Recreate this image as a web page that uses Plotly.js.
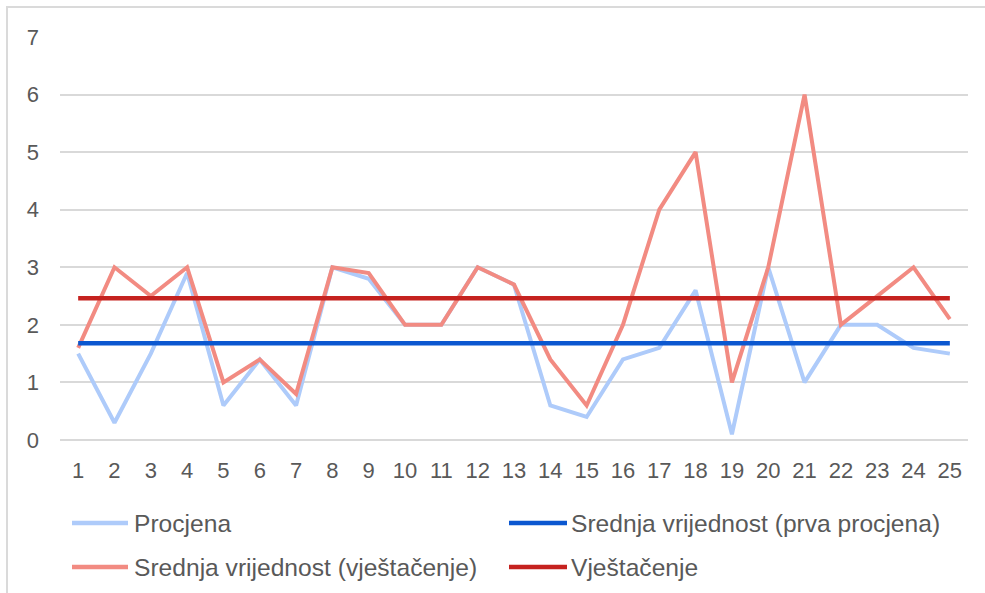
<!DOCTYPE html>
<html>
<head>
<meta charset="utf-8">
<script src="https://cdn.plot.ly/plotly-3.0.1.min.js"></script>
<style>
  html, body { margin: 0; padding: 0; background: #fff; overflow: hidden; }
  #chart { width: 985px; height: 593px; position: absolute; left: 0; top: 0; }
  #frame { position: absolute; left: 6px; top: 6px; width: 1000px; height: 620px;
           border: 2px solid #dadada; pointer-events: none; }
</style>
</head>
<body>
<div id="chart"></div>
<div id="frame"></div>
<script>
// ---- data ----
const categories = ['1','2','3','4','5','6','7','8','9','10','11','12','13','14','15','16','17','18','19','20','21','22','23','24','25'];
const procjena = [1.5,0.3,1.5,2.9,0.6,1.4,0.6,3,2.8,2,2,3,2.7,0.6,0.4,1.4,1.6,2.6,0.1,3,1,2,2,1.6,1.5];
const srednjaVjestacenje = [1.6,3,2.5,3,1,1.4,0.8,3,2.9,2,2,3,2.7,1.4,0.6,2,4,5,1,3,6,2,2.5,3,2.1];
const srednjaPrva = [1.68,1.68,1.68,1.68,1.68,1.68,1.68,1.68,1.68,1.68,1.68,1.68,1.68,1.68,1.68,1.68,1.68,1.68,1.68,1.68,1.68,1.68,1.68,1.68,1.68];
const vjestacenje = [2.46,2.46,2.46,2.46,2.46,2.46,2.46,2.46,2.46,2.46,2.46,2.46,2.46,2.46,2.46,2.46,2.46,2.46,2.46,2.46,2.46,2.46,2.46,2.46,2.46];
const seriesNames = ['Procjena','Srednja vrijednost (prva procjena)','Srednja vrijednost (vještačenje)','Vještačenje'];
const yTicks = [0,1,2,3,4,5,6,7];

// ---- styles ----
const colors = {
  procjena: '#aecbfa',
  prva: '#0b57d0',
  srednjaVj: '#f28b82',
  vj: '#c5221f'
};
const textColor = '#595959';
const W = 985, H = 593;
const M = {l: 60, r: 17, t: 37, b: 153};
const pw = W - M.l - M.r, ph = H - M.t - M.b;
const px2x = px => (px - M.l) / pw;
const py2y = py => (H - M.b - py) / ph;

const traces = [
  {x: categories, y: procjena, name: seriesNames[0], type: 'scatter', mode: 'lines',
   line: {color: colors.procjena, width: 4}},
  {x: categories, y: srednjaVjestacenje, name: seriesNames[2], type: 'scatter', mode: 'lines',
   line: {color: colors.srednjaVj, width: 4}},
  {x: categories, y: srednjaPrva, name: seriesNames[1], type: 'scatter', mode: 'lines',
   line: {color: colors.prva, width: 4.5}},
  {x: categories, y: vjestacenje, name: seriesNames[3], type: 'scatter', mode: 'lines',
   line: {color: colors.vj, width: 4.5}}
];

// manual legend (two columns, two rows)
const legendItems = [
  {name: seriesNames[0], color: colors.procjena, lx0: 72, lx1: 128, tx: 132, py: 523},
  {name: seriesNames[1], color: colors.prva, lx0: 509, lx1: 567, tx: 569, py: 523},
  {name: seriesNames[2], color: colors.srednjaVj, lx0: 72, lx1: 128, tx: 132, py: 567},
  {name: seriesNames[3], color: colors.vj, lx0: 509, lx1: 567, tx: 569, py: 567}
];
const shapes = legendItems.map(it => ({
  type: 'line', xref: 'paper', yref: 'paper',
  x0: px2x(it.lx0), x1: px2x(it.lx1), y0: py2y(it.py), y1: py2y(it.py),
  line: {color: it.color, width: 4.5}
}));
const annotations = legendItems.map(it => ({
  xref: 'paper', yref: 'paper', x: px2x(it.tx), y: py2y(it.py),
  xanchor: 'left', yanchor: 'middle', showarrow: false,
  text: it.name, font: {family: 'Liberation Sans, Arial, sans-serif', size: 24.6, color: textColor}
}));

const layout = {
  width: W, height: H,
  margin: M,
  paper_bgcolor: '#fff', plot_bgcolor: '#fff',
  showlegend: false,
  font: {family: 'Liberation Sans, Arial, sans-serif', color: textColor},
  xaxis: {
    type: 'category', categoryorder: 'array', categoryarray: categories,
    range: [-0.5, categories.length - 0.5],
    showgrid: false, zeroline: false, showline: false, ticks: '',
    tickfont: {size: 22, color: textColor},
    ticklabelstandoff: 15,
    fixedrange: true
  },
  yaxis: {
    range: [0, 7], tickvals: yTicks, ticktext: yTicks.map(String),
    showgrid: true, gridcolor: '#d9d9d9', gridwidth: 2,
    zeroline: true, zerolinecolor: '#d9d9d9', zerolinewidth: 2,
    showline: false, ticks: '',
    tickfont: {size: 22, color: textColor},
    ticklabelstandoff: 20,
    fixedrange: true
  },
  shapes: shapes,
  annotations: annotations,
  hovermode: false
};

Plotly.newPlot('chart', traces, layout, {displayModeBar: false, staticPlot: true});
</script>
</body>
</html>
